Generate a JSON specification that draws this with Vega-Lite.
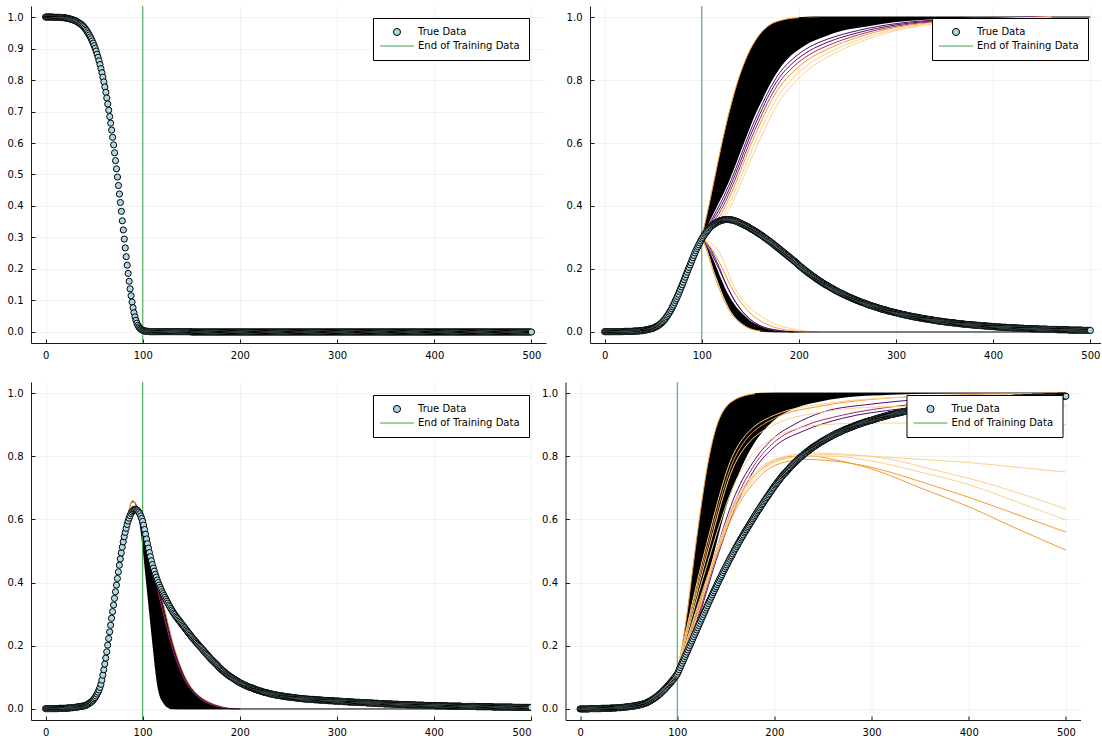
{
"$schema": "https://vega.github.io/schema/vega-lite/v6.json",
"padding": {"left": 7, "top": 5, "right": 0, "bottom": 0},
"background": "white",
"spacing": 21,
"resolve": {"scale": {"shape": "independent", "stroke": "independent"}, "legend": {"shape": "independent", "stroke": "independent"}},
"config": {
  "font": "DejaVu Sans",
  "view": {"stroke": null},
  "axis": {"title": null, "domainColor": "#1a1a1a", "domainWidth": 1, "tickColor": "#1a1a1a", "tickWidth": 1, "tickSize": -4, "labelFont": "DejaVu Sans", "labelFontSize": 10, "labelColor": "#000", "gridColor": "#000", "gridOpacity": 0.1, "gridWidth": 0.5},
  "axisX": {"labelPadding": 11},
  "axisY": {"labelPadding": 12},
  "legend": {"title": null, "strokeColor": "#000", "fillColor": "#fff", "padding": 9, "cornerRadius": 0, "labelFont": "DejaVu Sans", "labelFontSize": 10, "labelColor": "#000", "symbolSize": 50, "symbolStrokeWidth": 1, "rowPadding": 3, "symbolOffset": 10, "labelOffset": 16}
},
"datasets": {
"truth": [
{"x":0,"S":1,"E":0.001,"I":0.001,"R":0},{"x":1,"S":1,"E":0.001,"I":0.001,"R":0},{"x":2,"S":1,"E":0.001,"I":0.001,"R":0},{"x":3,"S":1,"E":0.001,"I":0.001,"R":0},{"x":4,"S":1,"E":0.001,"I":0.001,"R":0},{"x":5,"S":1,"E":0.001,"I":0.001,"R":0},{"x":6,"S":1,"E":0.001,"I":0.001,"R":0},{"x":7,"S":1,"E":0.001,"I":0.001,"R":0},{"x":8,"S":0.999,"E":0.001,"I":0.001,"R":0},{"x":9,"S":0.999,"E":0.001,"I":0.001,"R":0},
{"x":10,"S":0.999,"E":0.001,"I":0.001,"R":0.001},{"x":11,"S":0.999,"E":0.001,"I":0.001,"R":0.001},{"x":12,"S":0.999,"E":0.001,"I":0.001,"R":0.001},{"x":13,"S":0.999,"E":0.001,"I":0.001,"R":0.001},{"x":14,"S":0.999,"E":0.002,"I":0.001,"R":0.001},{"x":15,"S":0.999,"E":0.002,"I":0.001,"R":0.001},{"x":16,"S":0.998,"E":0.002,"I":0.001,"R":0.001},{"x":17,"S":0.998,"E":0.002,"I":0.001,"R":0.001},{"x":18,"S":0.998,"E":0.002,"I":0.001,"R":0.001},{"x":19,"S":0.998,"E":0.002,"I":0.001,"R":0.001},
{"x":20,"S":0.997,"E":0.002,"I":0.002,"R":0.001},{"x":21,"S":0.997,"E":0.002,"I":0.002,"R":0.001},{"x":22,"S":0.996,"E":0.003,"I":0.002,"R":0.002},{"x":23,"S":0.996,"E":0.003,"I":0.002,"R":0.002},{"x":24,"S":0.995,"E":0.003,"I":0.002,"R":0.002},{"x":25,"S":0.994,"E":0.003,"I":0.002,"R":0.002},{"x":26,"S":0.993,"E":0.004,"I":0.002,"R":0.002},{"x":27,"S":0.992,"E":0.004,"I":0.002,"R":0.002},{"x":28,"S":0.991,"E":0.004,"I":0.002,"R":0.002},{"x":29,"S":0.99,"E":0.004,"I":0.002,"R":0.002},
{"x":30,"S":0.989,"E":0.005,"I":0.003,"R":0.002},{"x":31,"S":0.988,"E":0.005,"I":0.003,"R":0.002},{"x":32,"S":0.986,"E":0.006,"I":0.003,"R":0.003},{"x":33,"S":0.984,"E":0.006,"I":0.003,"R":0.003},{"x":34,"S":0.982,"E":0.007,"I":0.003,"R":0.003},{"x":35,"S":0.98,"E":0.007,"I":0.003,"R":0.003},{"x":36,"S":0.978,"E":0.008,"I":0.004,"R":0.003},{"x":37,"S":0.976,"E":0.008,"I":0.004,"R":0.003},{"x":38,"S":0.973,"E":0.009,"I":0.004,"R":0.004},{"x":39,"S":0.97,"E":0.009,"I":0.004,"R":0.004},
{"x":40,"S":0.966,"E":0.010,"I":0.005,"R":0.004},{"x":41,"S":0.962,"E":0.011,"I":0.006,"R":0.004},{"x":42,"S":0.958,"E":0.012,"I":0.006,"R":0.004},{"x":43,"S":0.953,"E":0.014,"I":0.007,"R":0.005},{"x":44,"S":0.948,"E":0.016,"I":0.007,"R":0.005},{"x":45,"S":0.943,"E":0.018,"I":0.008,"R":0.005},{"x":46,"S":0.937,"E":0.020,"I":0.009,"R":0.006},{"x":47,"S":0.931,"E":0.022,"I":0.010,"R":0.006},{"x":48,"S":0.924,"E":0.025,"I":0.010,"R":0.006},{"x":49,"S":0.917,"E":0.028,"I":0.011,"R":0.007},
{"x":50,"S":0.909,"E":0.032,"I":0.012,"R":0.007},{"x":51,"S":0.901,"E":0.036,"I":0.014,"R":0.007},{"x":52,"S":0.892,"E":0.041,"I":0.015,"R":0.008},{"x":53,"S":0.882,"E":0.047,"I":0.017,"R":0.008},{"x":54,"S":0.872,"E":0.053,"I":0.018,"R":0.009},{"x":55,"S":0.861,"E":0.060,"I":0.020,"R":0.009},{"x":56,"S":0.849,"E":0.068,"I":0.022,"R":0.010},{"x":57,"S":0.836,"E":0.078,"I":0.025,"R":0.010},{"x":58,"S":0.823,"E":0.091,"I":0.027,"R":0.011},{"x":59,"S":0.809,"E":0.107,"I":0.030,"R":0.011},
{"x":60,"S":0.794,"E":0.124,"I":0.033,"R":0.012},{"x":61,"S":0.778,"E":0.142,"I":0.037,"R":0.013},{"x":62,"S":0.761,"E":0.161,"I":0.040,"R":0.013},{"x":63,"S":0.743,"E":0.181,"I":0.044,"R":0.014},{"x":64,"S":0.724,"E":0.202,"I":0.049,"R":0.015},{"x":65,"S":0.704,"E":0.223,"I":0.053,"R":0.016},{"x":66,"S":0.684,"E":0.244,"I":0.058,"R":0.017},{"x":67,"S":0.663,"E":0.265,"I":0.063,"R":0.018},{"x":68,"S":0.641,"E":0.287,"I":0.068,"R":0.019},{"x":69,"S":0.618,"E":0.308,"I":0.074,"R":0.020},
{"x":70,"S":0.594,"E":0.329,"I":0.080,"R":0.022},{"x":71,"S":0.569,"E":0.350,"I":0.086,"R":0.024},{"x":72,"S":0.544,"E":0.371,"I":0.093,"R":0.025},{"x":73,"S":0.518,"E":0.392,"I":0.100,"R":0.027},{"x":74,"S":0.492,"E":0.413,"I":0.106,"R":0.029},{"x":75,"S":0.465,"E":0.434,"I":0.113,"R":0.031},{"x":76,"S":0.438,"E":0.455,"I":0.120,"R":0.033},{"x":77,"S":0.411,"E":0.475,"I":0.128,"R":0.035},{"x":78,"S":0.383,"E":0.494,"I":0.135,"R":0.037},{"x":79,"S":0.353,"E":0.512,"I":0.143,"R":0.040},
{"x":80,"S":0.324,"E":0.529,"I":0.150,"R":0.042},{"x":81,"S":0.295,"E":0.545,"I":0.158,"R":0.045},{"x":82,"S":0.267,"E":0.559,"I":0.166,"R":0.047},{"x":83,"S":0.239,"E":0.572,"I":0.174,"R":0.050},{"x":84,"S":0.212,"E":0.584,"I":0.182,"R":0.053},{"x":85,"S":0.186,"E":0.595,"I":0.190,"R":0.056},{"x":86,"S":0.161,"E":0.604,"I":0.198,"R":0.059},{"x":87,"S":0.137,"E":0.612,"I":0.205,"R":0.062},{"x":88,"S":0.115,"E":0.619,"I":0.213,"R":0.065},{"x":89,"S":0.095,"E":0.624,"I":0.220,"R":0.069},
{"x":90,"S":0.077,"E":0.628,"I":0.228,"R":0.072},{"x":91,"S":0.061,"E":0.631,"I":0.236,"R":0.076},{"x":92,"S":0.048,"E":0.632,"I":0.243,"R":0.079},{"x":93,"S":0.037,"E":0.632,"I":0.251,"R":0.083},{"x":94,"S":0.028,"E":0.630,"I":0.258,"R":0.086},{"x":95,"S":0.021,"E":0.627,"I":0.265,"R":0.090},{"x":96,"S":0.016,"E":0.623,"I":0.271,"R":0.094},{"x":97,"S":0.012,"E":0.618,"I":0.277,"R":0.098},{"x":98,"S":0.009,"E":0.611,"I":0.283,"R":0.102},{"x":99,"S":0.007,"E":0.603,"I":0.289,"R":0.106},
{"x":100,"S":0.005,"E":0.594,"I":0.295,"R":0.110},{"x":101,"S":0.004,"E":0.582,"I":0.300,"R":0.117},{"x":102,"S":0.003,"E":0.568,"I":0.305,"R":0.124},{"x":103,"S":0.003,"E":0.553,"I":0.310,"R":0.131},{"x":104,"S":0.002,"E":0.538,"I":0.314,"R":0.138},{"x":105,"S":0.002,"E":0.523,"I":0.318,"R":0.145},{"x":106,"S":0.002,"E":0.509,"I":0.322,"R":0.152},{"x":107,"S":0.001,"E":0.495,"I":0.326,"R":0.159},{"x":108,"S":0.001,"E":0.482,"I":0.330,"R":0.166},{"x":109,"S":0.001,"E":0.469,"I":0.333,"R":0.173},
{"x":110,"S":0.001,"E":0.457,"I":0.336,"R":0.180},{"x":111,"S":0.001,"E":0.446,"I":0.339,"R":0.187},{"x":112,"S":0.001,"E":0.436,"I":0.341,"R":0.194},{"x":113,"S":0.001,"E":0.426,"I":0.343,"R":0.201},{"x":114,"S":0.001,"E":0.417,"I":0.345,"R":0.208},{"x":115,"S":0.001,"E":0.408,"I":0.347,"R":0.215},{"x":116,"S":0.001,"E":0.400,"I":0.349,"R":0.222},{"x":117,"S":0.001,"E":0.392,"I":0.350,"R":0.229},{"x":118,"S":0.001,"E":0.385,"I":0.352,"R":0.236},{"x":119,"S":0.001,"E":0.378,"I":0.353,"R":0.243},
{"x":120,"S":0.001,"E":0.371,"I":0.354,"R":0.250},{"x":121,"S":0.001,"E":0.365,"I":0.355,"R":0.257},{"x":122,"S":0.001,"E":0.359,"I":0.356,"R":0.264},{"x":123,"S":0.001,"E":0.353,"I":0.356,"R":0.271},{"x":124,"S":0.001,"E":0.347,"I":0.357,"R":0.278},{"x":125,"S":0.001,"E":0.341,"I":0.357,"R":0.285},{"x":126,"S":0.001,"E":0.335,"I":0.357,"R":0.292},{"x":127,"S":0.001,"E":0.329,"I":0.357,"R":0.299},{"x":128,"S":0.001,"E":0.324,"I":0.357,"R":0.306},{"x":129,"S":0.001,"E":0.318,"I":0.356,"R":0.313},
{"x":130,"S":0.001,"E":0.313,"I":0.356,"R":0.320},{"x":131,"S":0.001,"E":0.308,"I":0.356,"R":0.327},{"x":132,"S":0.001,"E":0.303,"I":0.355,"R":0.334},{"x":133,"S":0.001,"E":0.299,"I":0.354,"R":0.341},{"x":134,"S":0.001,"E":0.294,"I":0.353,"R":0.347},{"x":135,"S":0.001,"E":0.290,"I":0.352,"R":0.354},{"x":136,"S":0.001,"E":0.286,"I":0.351,"R":0.361},{"x":137,"S":0.001,"E":0.282,"I":0.350,"R":0.368},{"x":138,"S":0.001,"E":0.278,"I":0.348,"R":0.374},{"x":139,"S":0.001,"E":0.274,"I":0.347,"R":0.381},
{"x":140,"S":0.001,"E":0.270,"I":0.345,"R":0.387},{"x":141,"S":0.001,"E":0.266,"I":0.344,"R":0.394},{"x":142,"S":0.001,"E":0.262,"I":0.342,"R":0.400},{"x":143,"S":0.001,"E":0.258,"I":0.341,"R":0.407},{"x":144,"S":0.001,"E":0.254,"I":0.339,"R":0.413},{"x":145,"S":0.001,"E":0.250,"I":0.338,"R":0.419},{"x":146,"S":0.001,"E":0.246,"I":0.336,"R":0.425},{"x":147,"S":0.001,"E":0.242,"I":0.335,"R":0.432},{"x":148,"S":0.001,"E":0.238,"I":0.333,"R":0.438},{"x":149,"S":0.001,"E":0.234,"I":0.331,"R":0.444},
{"x":150,"S":0,"E":0.230,"I":0.329,"R":0.450},{"x":151,"S":0,"E":0.226,"I":0.327,"R":0.456},{"x":152,"S":0,"E":0.222,"I":0.325,"R":0.462},{"x":153,"S":0,"E":0.219,"I":0.324,"R":0.468},{"x":154,"S":0,"E":0.215,"I":0.322,"R":0.474},{"x":155,"S":0,"E":0.212,"I":0.320,"R":0.480},{"x":156,"S":0,"E":0.208,"I":0.318,"R":0.485},{"x":157,"S":0,"E":0.205,"I":0.316,"R":0.491},{"x":158,"S":0,"E":0.201,"I":0.314,"R":0.497},{"x":159,"S":0,"E":0.198,"I":0.312,"R":0.503},
{"x":160,"S":0,"E":0.194,"I":0.310,"R":0.508},{"x":161,"S":0,"E":0.191,"I":0.308,"R":0.514},{"x":162,"S":0,"E":0.187,"I":0.306,"R":0.519},{"x":163,"S":0,"E":0.184,"I":0.304,"R":0.525},{"x":164,"S":0,"E":0.180,"I":0.301,"R":0.530},{"x":165,"S":0,"E":0.177,"I":0.299,"R":0.536},{"x":166,"S":0,"E":0.173,"I":0.297,"R":0.541},{"x":167,"S":0,"E":0.170,"I":0.295,"R":0.546},{"x":168,"S":0,"E":0.166,"I":0.292,"R":0.551},{"x":169,"S":0,"E":0.163,"I":0.290,"R":0.557},
{"x":170,"S":0,"E":0.159,"I":0.288,"R":0.562},{"x":171,"S":0,"E":0.156,"I":0.286,"R":0.567},{"x":172,"S":0,"E":0.153,"I":0.283,"R":0.572},{"x":173,"S":0,"E":0.150,"I":0.281,"R":0.577},{"x":174,"S":0,"E":0.147,"I":0.278,"R":0.582},{"x":175,"S":0,"E":0.144,"I":0.276,"R":0.587},{"x":176,"S":0,"E":0.141,"I":0.273,"R":0.592},{"x":177,"S":0,"E":0.138,"I":0.271,"R":0.597},{"x":178,"S":0,"E":0.134,"I":0.268,"R":0.602},{"x":179,"S":0,"E":0.131,"I":0.266,"R":0.607},
{"x":180,"S":0,"E":0.128,"I":0.263,"R":0.612},{"x":181,"S":0,"E":0.125,"I":0.261,"R":0.617},{"x":182,"S":0,"E":0.122,"I":0.258,"R":0.622},{"x":183,"S":0,"E":0.120,"I":0.256,"R":0.627},{"x":184,"S":0,"E":0.117,"I":0.253,"R":0.631},{"x":185,"S":0,"E":0.115,"I":0.251,"R":0.636},{"x":186,"S":0,"E":0.112,"I":0.248,"R":0.641},{"x":187,"S":0,"E":0.110,"I":0.246,"R":0.646},{"x":188,"S":0,"E":0.107,"I":0.243,"R":0.650},{"x":189,"S":0,"E":0.105,"I":0.241,"R":0.655},
{"x":190,"S":0,"E":0.103,"I":0.238,"R":0.660},{"x":191,"S":0,"E":0.101,"I":0.236,"R":0.664},{"x":192,"S":0,"E":0.099,"I":0.233,"R":0.669},{"x":193,"S":0,"E":0.097,"I":0.231,"R":0.673},{"x":194,"S":0,"E":0.095,"I":0.228,"R":0.678},{"x":195,"S":0,"E":0.093,"I":0.226,"R":0.682},{"x":196,"S":0,"E":0.091,"I":0.223,"R":0.687},{"x":197,"S":0,"E":0.089,"I":0.221,"R":0.691},{"x":198,"S":0,"E":0.087,"I":0.218,"R":0.696},{"x":199,"S":0,"E":0.085,"I":0.215,"R":0.700},
{"x":200,"S":0,"E":0.083,"I":0.212,"R":0.705},{"x":201,"S":0,"E":0.082,"I":0.209,"R":0.709},{"x":202,"S":0,"E":0.080,"I":0.207,"R":0.713},{"x":203,"S":0,"E":0.079,"I":0.204,"R":0.717},{"x":204,"S":0,"E":0.077,"I":0.202,"R":0.721},{"x":205,"S":0,"E":0.076,"I":0.199,"R":0.725},{"x":206,"S":0,"E":0.074,"I":0.197,"R":0.729},{"x":207,"S":0,"E":0.073,"I":0.194,"R":0.733},{"x":208,"S":0,"E":0.071,"I":0.192,"R":0.737},{"x":209,"S":0,"E":0.070,"I":0.189,"R":0.741},
{"x":210,"S":0,"E":0.069,"I":0.187,"R":0.744},{"x":211,"S":0,"E":0.068,"I":0.185,"R":0.747},{"x":212,"S":0,"E":0.067,"I":0.183,"R":0.750},{"x":213,"S":0,"E":0.066,"I":0.180,"R":0.754},{"x":214,"S":0,"E":0.065,"I":0.178,"R":0.757},{"x":215,"S":0,"E":0.063,"I":0.176,"R":0.761},{"x":216,"S":0,"E":0.062,"I":0.174,"R":0.764},{"x":217,"S":0,"E":0.061,"I":0.171,"R":0.768},{"x":218,"S":0,"E":0.060,"I":0.169,"R":0.771},{"x":219,"S":0,"E":0.059,"I":0.167,"R":0.774},
{"x":220,"S":0,"E":0.058,"I":0.165,"R":0.777},{"x":221,"S":0,"E":0.057,"I":0.163,"R":0.780},{"x":222,"S":0,"E":0.056,"I":0.161,"R":0.783},{"x":223,"S":0,"E":0.055,"I":0.159,"R":0.786},{"x":224,"S":0,"E":0.054,"I":0.157,"R":0.789},{"x":225,"S":0,"E":0.053,"I":0.155,"R":0.792},{"x":226,"S":0,"E":0.052,"I":0.153,"R":0.795},{"x":227,"S":0,"E":0.052,"I":0.151,"R":0.797},{"x":228,"S":0,"E":0.051,"I":0.149,"R":0.800},{"x":229,"S":0,"E":0.050,"I":0.148,"R":0.802},
{"x":230,"S":0,"E":0.049,"I":0.146,"R":0.805},{"x":231,"S":0,"E":0.048,"I":0.144,"R":0.808},{"x":232,"S":0,"E":0.048,"I":0.142,"R":0.810},{"x":233,"S":0,"E":0.047,"I":0.140,"R":0.813},{"x":234,"S":0,"E":0.046,"I":0.139,"R":0.815},{"x":235,"S":0,"E":0.046,"I":0.137,"R":0.817},{"x":236,"S":0,"E":0.045,"I":0.135,"R":0.820},{"x":237,"S":0,"E":0.044,"I":0.133,"R":0.823},{"x":238,"S":0,"E":0.044,"I":0.132,"R":0.824},{"x":239,"S":0,"E":0.043,"I":0.130,"R":0.827},
{"x":240,"S":0,"E":0.043,"I":0.128,"R":0.829},{"x":241,"S":0,"E":0.042,"I":0.127,"R":0.831},{"x":242,"S":0,"E":0.042,"I":0.125,"R":0.833},{"x":243,"S":0,"E":0.041,"I":0.124,"R":0.835},{"x":244,"S":0,"E":0.041,"I":0.122,"R":0.837},{"x":245,"S":0,"E":0.040,"I":0.121,"R":0.839},{"x":246,"S":0,"E":0.040,"I":0.119,"R":0.841},{"x":247,"S":0,"E":0.039,"I":0.118,"R":0.843},{"x":248,"S":0,"E":0.039,"I":0.116,"R":0.845},{"x":249,"S":0,"E":0.038,"I":0.115,"R":0.847},
{"x":250,"S":0,"E":0.038,"I":0.113,"R":0.849},{"x":251,"S":0,"E":0.038,"I":0.112,"R":0.850},{"x":252,"S":0,"E":0.037,"I":0.111,"R":0.852},{"x":253,"S":0,"E":0.037,"I":0.109,"R":0.854},{"x":254,"S":0,"E":0.036,"I":0.108,"R":0.856},{"x":255,"S":0,"E":0.036,"I":0.107,"R":0.857},{"x":256,"S":0,"E":0.036,"I":0.105,"R":0.859},{"x":257,"S":0,"E":0.035,"I":0.104,"R":0.861},{"x":258,"S":0,"E":0.035,"I":0.103,"R":0.862},{"x":259,"S":0,"E":0.034,"I":0.101,"R":0.865},
{"x":260,"S":0,"E":0.034,"I":0.100,"R":0.866},{"x":261,"S":0,"E":0.034,"I":0.099,"R":0.867},{"x":262,"S":0,"E":0.033,"I":0.098,"R":0.869},{"x":263,"S":0,"E":0.033,"I":0.096,"R":0.871},{"x":264,"S":0,"E":0.033,"I":0.095,"R":0.872},{"x":265,"S":0,"E":0.032,"I":0.094,"R":0.874},{"x":266,"S":0,"E":0.032,"I":0.093,"R":0.875},{"x":267,"S":0,"E":0.032,"I":0.092,"R":0.876},{"x":268,"S":0,"E":0.031,"I":0.091,"R":0.878},{"x":269,"S":0,"E":0.031,"I":0.090,"R":0.879},
{"x":270,"S":0,"E":0.031,"I":0.088,"R":0.881},{"x":271,"S":0,"E":0.031,"I":0.087,"R":0.882},{"x":272,"S":0,"E":0.030,"I":0.086,"R":0.884},{"x":273,"S":0,"E":0.030,"I":0.085,"R":0.885},{"x":274,"S":0,"E":0.030,"I":0.084,"R":0.886},{"x":275,"S":0,"E":0.030,"I":0.083,"R":0.887},{"x":276,"S":0,"E":0.030,"I":0.082,"R":0.888},{"x":277,"S":0,"E":0.029,"I":0.081,"R":0.890},{"x":278,"S":0,"E":0.029,"I":0.080,"R":0.891},{"x":279,"S":0,"E":0.029,"I":0.079,"R":0.892},
{"x":280,"S":0,"E":0.029,"I":0.078,"R":0.893},{"x":281,"S":0,"E":0.029,"I":0.077,"R":0.894},{"x":282,"S":0,"E":0.028,"I":0.076,"R":0.896},{"x":283,"S":0,"E":0.028,"I":0.075,"R":0.897},{"x":284,"S":0,"E":0.028,"I":0.074,"R":0.898},{"x":285,"S":0,"E":0.028,"I":0.073,"R":0.899},{"x":286,"S":0,"E":0.027,"I":0.072,"R":0.901},{"x":287,"S":0,"E":0.027,"I":0.071,"R":0.902},{"x":288,"S":0,"E":0.027,"I":0.071,"R":0.902},{"x":289,"S":0,"E":0.027,"I":0.070,"R":0.903},
{"x":290,"S":0,"E":0.027,"I":0.069,"R":0.904},{"x":291,"S":0,"E":0.026,"I":0.068,"R":0.906},{"x":292,"S":0,"E":0.026,"I":0.067,"R":0.907},{"x":293,"S":0,"E":0.026,"I":0.066,"R":0.908},{"x":294,"S":0,"E":0.026,"I":0.065,"R":0.909},{"x":295,"S":0,"E":0.026,"I":0.065,"R":0.909},{"x":296,"S":0,"E":0.026,"I":0.064,"R":0.910},{"x":297,"S":0,"E":0.025,"I":0.063,"R":0.912},{"x":298,"S":0,"E":0.025,"I":0.062,"R":0.913},{"x":299,"S":0,"E":0.025,"I":0.062,"R":0.913},
{"x":300,"S":0,"E":0.025,"I":0.061,"R":0.914},{"x":301,"S":0,"E":0.025,"I":0.060,"R":0.915},{"x":302,"S":0,"E":0.025,"I":0.059,"R":0.916},{"x":303,"S":0,"E":0.024,"I":0.059,"R":0.917},{"x":304,"S":0,"E":0.024,"I":0.058,"R":0.918},{"x":305,"S":0,"E":0.024,"I":0.057,"R":0.919},{"x":306,"S":0,"E":0.024,"I":0.056,"R":0.920},{"x":307,"S":0,"E":0.023,"I":0.056,"R":0.921},{"x":308,"S":0,"E":0.023,"I":0.055,"R":0.922},{"x":309,"S":0,"E":0.023,"I":0.054,"R":0.923},
{"x":310,"S":0,"E":0.023,"I":0.054,"R":0.923},{"x":311,"S":0,"E":0.023,"I":0.053,"R":0.924},{"x":312,"S":0,"E":0.022,"I":0.052,"R":0.926},{"x":313,"S":0,"E":0.022,"I":0.052,"R":0.926},{"x":314,"S":0,"E":0.022,"I":0.051,"R":0.927},{"x":315,"S":0,"E":0.022,"I":0.050,"R":0.928},{"x":316,"S":0,"E":0.022,"I":0.050,"R":0.928},{"x":317,"S":0,"E":0.022,"I":0.049,"R":0.929},{"x":318,"S":0,"E":0.021,"I":0.048,"R":0.931},{"x":319,"S":0,"E":0.021,"I":0.048,"R":0.931},
{"x":320,"S":0,"E":0.021,"I":0.047,"R":0.932},{"x":321,"S":0,"E":0.021,"I":0.047,"R":0.932},{"x":322,"S":0,"E":0.021,"I":0.046,"R":0.933},{"x":323,"S":0,"E":0.021,"I":0.046,"R":0.933},{"x":324,"S":0,"E":0.020,"I":0.045,"R":0.935},{"x":325,"S":0,"E":0.020,"I":0.044,"R":0.936},{"x":326,"S":0,"E":0.020,"I":0.044,"R":0.936},{"x":327,"S":0,"E":0.020,"I":0.043,"R":0.937},{"x":328,"S":0,"E":0.020,"I":0.043,"R":0.937},{"x":329,"S":0,"E":0.020,"I":0.042,"R":0.938},
{"x":330,"S":0,"E":0.020,"I":0.042,"R":0.938},{"x":331,"S":0,"E":0.019,"I":0.041,"R":0.940},{"x":332,"S":0,"E":0.019,"I":0.041,"R":0.940},{"x":333,"S":0,"E":0.019,"I":0.040,"R":0.941},{"x":334,"S":0,"E":0.019,"I":0.040,"R":0.941},{"x":335,"S":0,"E":0.019,"I":0.039,"R":0.942},{"x":336,"S":0,"E":0.019,"I":0.039,"R":0.942},{"x":337,"S":0,"E":0.018,"I":0.038,"R":0.944},{"x":338,"S":0,"E":0.018,"I":0.038,"R":0.944},{"x":339,"S":0,"E":0.018,"I":0.037,"R":0.945},
{"x":340,"S":0,"E":0.018,"I":0.037,"R":0.945},{"x":341,"S":0,"E":0.018,"I":0.036,"R":0.946},{"x":342,"S":0,"E":0.018,"I":0.036,"R":0.946},{"x":343,"S":0,"E":0.017,"I":0.035,"R":0.948},{"x":344,"S":0,"E":0.017,"I":0.035,"R":0.948},{"x":345,"S":0,"E":0.017,"I":0.034,"R":0.949},{"x":346,"S":0,"E":0.017,"I":0.034,"R":0.949},{"x":347,"S":0,"E":0.017,"I":0.034,"R":0.949},{"x":348,"S":0,"E":0.017,"I":0.033,"R":0.950},{"x":349,"S":0,"E":0.016,"I":0.033,"R":0.951},
{"x":350,"S":0,"E":0.016,"I":0.032,"R":0.952},{"x":351,"S":0,"E":0.016,"I":0.032,"R":0.952},{"x":352,"S":0,"E":0.016,"I":0.031,"R":0.953},{"x":353,"S":0,"E":0.016,"I":0.031,"R":0.953},{"x":354,"S":0,"E":0.016,"I":0.031,"R":0.953},{"x":355,"S":0,"E":0.016,"I":0.030,"R":0.954},{"x":356,"S":0,"E":0.016,"I":0.030,"R":0.954},{"x":357,"S":0,"E":0.015,"I":0.030,"R":0.955},{"x":358,"S":0,"E":0.015,"I":0.029,"R":0.956},{"x":359,"S":0,"E":0.015,"I":0.029,"R":0.956},
{"x":360,"S":0,"E":0.015,"I":0.029,"R":0.956},{"x":361,"S":0,"E":0.015,"I":0.028,"R":0.957},{"x":362,"S":0,"E":0.015,"I":0.028,"R":0.957},{"x":363,"S":0,"E":0.015,"I":0.027,"R":0.958},{"x":364,"S":0,"E":0.014,"I":0.027,"R":0.959},{"x":365,"S":0,"E":0.014,"I":0.027,"R":0.959},{"x":366,"S":0,"E":0.014,"I":0.026,"R":0.960},{"x":367,"S":0,"E":0.014,"I":0.026,"R":0.960},{"x":368,"S":0,"E":0.014,"I":0.026,"R":0.960},{"x":369,"S":0,"E":0.014,"I":0.025,"R":0.961},
{"x":370,"S":0,"E":0.014,"I":0.025,"R":0.961},{"x":371,"S":0,"E":0.014,"I":0.025,"R":0.961},{"x":372,"S":0,"E":0.013,"I":0.024,"R":0.963},{"x":373,"S":0,"E":0.013,"I":0.024,"R":0.963},{"x":374,"S":0,"E":0.013,"I":0.024,"R":0.963},{"x":375,"S":0,"E":0.013,"I":0.024,"R":0.963},{"x":376,"S":0,"E":0.013,"I":0.023,"R":0.964},{"x":377,"S":0,"E":0.013,"I":0.023,"R":0.964},{"x":378,"S":0,"E":0.013,"I":0.023,"R":0.964},{"x":379,"S":0,"E":0.013,"I":0.022,"R":0.965},
{"x":380,"S":0,"E":0.013,"I":0.022,"R":0.965},{"x":381,"S":0,"E":0.012,"I":0.022,"R":0.966},{"x":382,"S":0,"E":0.012,"I":0.022,"R":0.966},{"x":383,"S":0,"E":0.012,"I":0.021,"R":0.967},{"x":384,"S":0,"E":0.012,"I":0.021,"R":0.967},{"x":385,"S":0,"E":0.012,"I":0.021,"R":0.967},{"x":386,"S":0,"E":0.012,"I":0.021,"R":0.967},{"x":387,"S":0,"E":0.012,"I":0.020,"R":0.968},{"x":388,"S":0,"E":0.012,"I":0.020,"R":0.968},{"x":389,"S":0,"E":0.012,"I":0.020,"R":0.968},
{"x":390,"S":0,"E":0.011,"I":0.020,"R":0.969},{"x":391,"S":0,"E":0.011,"I":0.019,"R":0.970},{"x":392,"S":0,"E":0.011,"I":0.019,"R":0.970},{"x":393,"S":0,"E":0.011,"I":0.019,"R":0.970},{"x":394,"S":0,"E":0.011,"I":0.019,"R":0.970},{"x":395,"S":0,"E":0.011,"I":0.018,"R":0.971},{"x":396,"S":0,"E":0.011,"I":0.018,"R":0.971},{"x":397,"S":0,"E":0.011,"I":0.018,"R":0.971},{"x":398,"S":0,"E":0.011,"I":0.018,"R":0.971},{"x":399,"S":0,"E":0.011,"I":0.017,"R":0.972},
{"x":400,"S":0,"E":0.011,"I":0.017,"R":0.972},{"x":401,"S":0,"E":0.011,"I":0.017,"R":0.972},{"x":402,"S":0,"E":0.010,"I":0.017,"R":0.973},{"x":403,"S":0,"E":0.010,"I":0.016,"R":0.974},{"x":404,"S":0,"E":0.010,"I":0.016,"R":0.974},{"x":405,"S":0,"E":0.010,"I":0.016,"R":0.974},{"x":406,"S":0,"E":0.010,"I":0.016,"R":0.974},{"x":407,"S":0,"E":0.010,"I":0.016,"R":0.974},{"x":408,"S":0,"E":0.010,"I":0.015,"R":0.975},{"x":409,"S":0,"E":0.010,"I":0.015,"R":0.975},
{"x":410,"S":0,"E":0.010,"I":0.015,"R":0.975},{"x":411,"S":0,"E":0.010,"I":0.015,"R":0.975},{"x":412,"S":0,"E":0.010,"I":0.015,"R":0.975},{"x":413,"S":0,"E":0.010,"I":0.015,"R":0.975},{"x":414,"S":0,"E":0.009,"I":0.014,"R":0.977},{"x":415,"S":0,"E":0.009,"I":0.014,"R":0.977},{"x":416,"S":0,"E":0.009,"I":0.014,"R":0.977},{"x":417,"S":0,"E":0.009,"I":0.014,"R":0.977},{"x":418,"S":0,"E":0.009,"I":0.014,"R":0.977},{"x":419,"S":0,"E":0.009,"I":0.014,"R":0.977},
{"x":420,"S":0,"E":0.009,"I":0.013,"R":0.978},{"x":421,"S":0,"E":0.009,"I":0.013,"R":0.978},{"x":422,"S":0,"E":0.009,"I":0.013,"R":0.978},{"x":423,"S":0,"E":0.009,"I":0.013,"R":0.978},{"x":424,"S":0,"E":0.009,"I":0.013,"R":0.978},{"x":425,"S":0,"E":0.009,"I":0.013,"R":0.978},{"x":426,"S":0,"E":0.009,"I":0.012,"R":0.979},{"x":427,"S":0,"E":0.009,"I":0.012,"R":0.979},{"x":428,"S":0,"E":0.009,"I":0.012,"R":0.979},{"x":429,"S":0,"E":0.008,"I":0.012,"R":0.980},
{"x":430,"S":0,"E":0.008,"I":0.012,"R":0.980},{"x":431,"S":0,"E":0.008,"I":0.012,"R":0.980},{"x":432,"S":0,"E":0.008,"I":0.011,"R":0.981},{"x":433,"S":0,"E":0.008,"I":0.011,"R":0.981},{"x":434,"S":0,"E":0.008,"I":0.011,"R":0.981},{"x":435,"S":0,"E":0.008,"I":0.011,"R":0.981},{"x":436,"S":0,"E":0.008,"I":0.011,"R":0.981},{"x":437,"S":0,"E":0.008,"I":0.011,"R":0.981},{"x":438,"S":0,"E":0.008,"I":0.011,"R":0.981},{"x":439,"S":0,"E":0.008,"I":0.010,"R":0.982},
{"x":440,"S":0,"E":0.008,"I":0.010,"R":0.982},{"x":441,"S":0,"E":0.008,"I":0.010,"R":0.982},{"x":442,"S":0,"E":0.008,"I":0.010,"R":0.982},{"x":443,"S":0,"E":0.008,"I":0.010,"R":0.982},{"x":444,"S":0,"E":0.007,"I":0.010,"R":0.983},{"x":445,"S":0,"E":0.007,"I":0.010,"R":0.983},{"x":446,"S":0,"E":0.007,"I":0.010,"R":0.983},{"x":447,"S":0,"E":0.007,"I":0.009,"R":0.984},{"x":448,"S":0,"E":0.007,"I":0.009,"R":0.984},{"x":449,"S":0,"E":0.007,"I":0.009,"R":0.984},
{"x":450,"S":0,"E":0.007,"I":0.009,"R":0.984},{"x":451,"S":0,"E":0.007,"I":0.009,"R":0.984},{"x":452,"S":0,"E":0.007,"I":0.009,"R":0.984},{"x":453,"S":0,"E":0.007,"I":0.009,"R":0.984},{"x":454,"S":0,"E":0.007,"I":0.009,"R":0.984},{"x":455,"S":0,"E":0.007,"I":0.009,"R":0.984},{"x":456,"S":0,"E":0.007,"I":0.008,"R":0.985},{"x":457,"S":0,"E":0.007,"I":0.008,"R":0.985},{"x":458,"S":0,"E":0.007,"I":0.008,"R":0.985},{"x":459,"S":0,"E":0.007,"I":0.008,"R":0.985},
{"x":460,"S":0,"E":0.007,"I":0.008,"R":0.985},{"x":461,"S":0,"E":0.006,"I":0.008,"R":0.986},{"x":462,"S":0,"E":0.006,"I":0.008,"R":0.986},{"x":463,"S":0,"E":0.006,"I":0.008,"R":0.986},{"x":464,"S":0,"E":0.006,"I":0.008,"R":0.986},{"x":465,"S":0,"E":0.006,"I":0.008,"R":0.986},{"x":466,"S":0,"E":0.006,"I":0.007,"R":0.987},{"x":467,"S":0,"E":0.006,"I":0.007,"R":0.987},{"x":468,"S":0,"E":0.006,"I":0.007,"R":0.987},{"x":469,"S":0,"E":0.006,"I":0.007,"R":0.987},
{"x":470,"S":0,"E":0.006,"I":0.007,"R":0.987},{"x":471,"S":0,"E":0.006,"I":0.007,"R":0.987},{"x":472,"S":0,"E":0.006,"I":0.007,"R":0.987},{"x":473,"S":0,"E":0.006,"I":0.007,"R":0.987},{"x":474,"S":0,"E":0.006,"I":0.007,"R":0.987},{"x":475,"S":0,"E":0.006,"I":0.007,"R":0.987},{"x":476,"S":0,"E":0.006,"I":0.007,"R":0.987},{"x":477,"S":0,"E":0.006,"I":0.007,"R":0.987},{"x":478,"S":0,"E":0.006,"I":0.006,"R":0.988},{"x":479,"S":0,"E":0.006,"I":0.006,"R":0.988},
{"x":480,"S":0,"E":0.006,"I":0.006,"R":0.988},{"x":481,"S":0,"E":0.005,"I":0.006,"R":0.989},{"x":482,"S":0,"E":0.005,"I":0.006,"R":0.989},{"x":483,"S":0,"E":0.005,"I":0.006,"R":0.989},{"x":484,"S":0,"E":0.005,"I":0.006,"R":0.989},{"x":485,"S":0,"E":0.005,"I":0.006,"R":0.989},{"x":486,"S":0,"E":0.005,"I":0.006,"R":0.989},{"x":487,"S":0,"E":0.005,"I":0.006,"R":0.989},{"x":488,"S":0,"E":0.005,"I":0.006,"R":0.989},{"x":489,"S":0,"E":0.005,"I":0.006,"R":0.989},
{"x":490,"S":0,"E":0.005,"I":0.006,"R":0.989},{"x":491,"S":0,"E":0.005,"I":0.006,"R":0.989},{"x":492,"S":0,"E":0.005,"I":0.005,"R":0.990},{"x":493,"S":0,"E":0.005,"I":0.005,"R":0.990},{"x":494,"S":0,"E":0.005,"I":0.005,"R":0.990},{"x":495,"S":0,"E":0.005,"I":0.005,"R":0.990},{"x":496,"S":0,"E":0.005,"I":0.005,"R":0.990},{"x":497,"S":0,"E":0.005,"I":0.005,"R":0.990},{"x":498,"S":0,"E":0.005,"I":0.005,"R":0.990},{"x":499,"S":0,"E":0.005,"I":0.005,"R":0.990},
{"x":500,"S":0,"E":0.005,"I":0.005,"R":0.990}
],
"a2": [
{"g":"up","x":100,"lo":0.30,"hi":0.30},{"g":"up","x":104,"lo":0.325,"hi":0.354},{"g":"up","x":108,"lo":0.35,"hi":0.41},{"g":"up","x":112,"lo":0.375,"hi":0.469},{"g":"up","x":116,"lo":0.40,"hi":0.529},{"g":"up","x":120,"lo":0.425,"hi":0.588},{"g":"up","x":124,"lo":0.45,"hi":0.643},{"g":"up","x":128,"lo":0.478,"hi":0.695},{"g":"up","x":132,"lo":0.508,"hi":0.742},{"g":"up","x":136,"lo":0.54,"hi":0.785},{"g":"up","x":140,"lo":0.572,"hi":0.823},{"g":"up","x":145,"lo":0.612,"hi":0.863},{"g":"up","x":150,"lo":0.652,"hi":0.897},{"g":"up","x":155,"lo":0.69,"hi":0.924},{"g":"up","x":160,"lo":0.722,"hi":0.946},{"g":"up","x":170,"lo":0.785,"hi":0.975},{"g":"up","x":180,"lo":0.835,"hi":0.988},{"g":"up","x":190,"lo":0.872,"hi":0.995},{"g":"up","x":200,"lo":0.897,"hi":0.998},{"g":"up","x":210,"lo":0.917,"hi":0.999},{"g":"up","x":220,"lo":0.930,"hi":1},{"g":"up","x":235,"lo":0.948,"hi":1},{"g":"up","x":250,"lo":0.960,"hi":1},{"g":"up","x":270,"lo":0.970,"hi":1},{"g":"up","x":300,"lo":0.984,"hi":1},{"g":"up","x":330,"lo":0.991,"hi":1},{"g":"up","x":360,"lo":0.996,"hi":1},{"g":"up","x":400,"lo":0.999,"hi":1},{"g":"up","x":450,"lo":1,"hi":1},
{"g":"low","x":100,"lo":0.30,"hi":0.30},{"g":"low","x":104,"lo":0.275,"hi":0.28},{"g":"low","x":108,"lo":0.24,"hi":0.257},{"g":"low","x":112,"lo":0.20,"hi":0.229},{"g":"low","x":116,"lo":0.165,"hi":0.199},{"g":"low","x":120,"lo":0.132,"hi":0.168},{"g":"low","x":124,"lo":0.102,"hi":0.14},{"g":"low","x":128,"lo":0.076,"hi":0.116},{"g":"low","x":132,"lo":0.056,"hi":0.095},{"g":"low","x":136,"lo":0.041,"hi":0.078},{"g":"low","x":140,"lo":0.03,"hi":0.064},{"g":"low","x":145,"lo":0.019,"hi":0.049},{"g":"low","x":150,"lo":0.011,"hi":0.036},{"g":"low","x":155,"lo":0.006,"hi":0.026},{"g":"low","x":160,"lo":0.003,"hi":0.018},{"g":"low","x":170,"lo":0.001,"hi":0.008},{"g":"low","x":180,"lo":0,"hi":0.003},{"g":"low","x":190,"lo":0,"hi":0.001},{"g":"low","x":200,"lo":0,"hi":0}
],
"l2": [
{"g":"ue","c":"orange","x":100,"y":0.30},{"g":"ue","c":"orange","x":104,"y":0.354},{"g":"ue","c":"orange","x":108,"y":0.41},{"g":"ue","c":"orange","x":112,"y":0.469},{"g":"ue","c":"orange","x":116,"y":0.529},{"g":"ue","c":"orange","x":120,"y":0.588},{"g":"ue","c":"orange","x":124,"y":0.643},{"g":"ue","c":"orange","x":128,"y":0.695},{"g":"ue","c":"orange","x":132,"y":0.742},{"g":"ue","c":"orange","x":136,"y":0.785},{"g":"ue","c":"orange","x":140,"y":0.823},{"g":"ue","c":"orange","x":145,"y":0.863},{"g":"ue","c":"orange","x":150,"y":0.897},{"g":"ue","c":"orange","x":160,"y":0.946},{"g":"ue","c":"orange","x":170,"y":0.975},{"g":"ue","c":"orange","x":180,"y":0.988},{"g":"ue","c":"orange","x":190,"y":0.995},{"g":"ue","c":"orange","x":200,"y":0.998},{"g":"ue","c":"orange","x":220,"y":1},
{"g":"top","c":"black","x":200,"y":0.998},{"g":"top","c":"black","x":220,"y":1},{"g":"top","c":"black","x":500,"y":1},
{"g":"p1","c":"purple","x":100,"y":0.30},{"g":"p1","c":"purple","x":110,"y":0.355},{"g":"p1","c":"purple","x":120,"y":0.413},{"g":"p1","c":"purple","x":130,"y":0.48},{"g":"p1","c":"purple","x":140,"y":0.558},{"g":"p1","c":"purple","x":150,"y":0.638},{"g":"p1","c":"purple","x":160,"y":0.708},{"g":"p1","c":"purple","x":170,"y":0.771},{"g":"p1","c":"purple","x":180,"y":0.822},{"g":"p1","c":"purple","x":194,"y":0.868},{"g":"p1","c":"purple","x":211,"y":0.905},{"g":"p1","c":"purple","x":228,"y":0.928},{"g":"p1","c":"purple","x":262,"y":0.958},{"g":"p1","c":"purple","x":300,"y":0.979},{"g":"p1","c":"purple","x":350,"y":0.992},{"g":"p1","c":"purple","x":400,"y":0.998},{"g":"p1","c":"purple","x":460,"y":1},
{"g":"p2","c":"purple","x":100,"y":0.30},{"g":"p2","c":"purple","x":110,"y":0.348},{"g":"p2","c":"purple","x":120,"y":0.40},{"g":"p2","c":"purple","x":130,"y":0.466},{"g":"p2","c":"purple","x":140,"y":0.543},{"g":"p2","c":"purple","x":150,"y":0.623},{"g":"p2","c":"purple","x":160,"y":0.693},{"g":"p2","c":"purple","x":170,"y":0.757},{"g":"p2","c":"purple","x":180,"y":0.808},{"g":"p2","c":"purple","x":194,"y":0.855},{"g":"p2","c":"purple","x":211,"y":0.893},{"g":"p2","c":"purple","x":228,"y":0.918},{"g":"p2","c":"purple","x":262,"y":0.951},{"g":"p2","c":"purple","x":300,"y":0.975},{"g":"p2","c":"purple","x":350,"y":0.99},{"g":"p2","c":"purple","x":400,"y":0.997},{"g":"p2","c":"purple","x":460,"y":1},
{"g":"m1","c":"magenta","x":100,"y":0.30},{"g":"m1","c":"magenta","x":110,"y":0.342},{"g":"m1","c":"magenta","x":120,"y":0.388},{"g":"m1","c":"magenta","x":130,"y":0.452},{"g":"m1","c":"magenta","x":140,"y":0.528},{"g":"m1","c":"magenta","x":150,"y":0.607},{"g":"m1","c":"magenta","x":160,"y":0.677},{"g":"m1","c":"magenta","x":170,"y":0.741},{"g":"m1","c":"magenta","x":180,"y":0.793},{"g":"m1","c":"magenta","x":194,"y":0.841},{"g":"m1","c":"magenta","x":211,"y":0.881},{"g":"m1","c":"magenta","x":228,"y":0.907},{"g":"m1","c":"magenta","x":262,"y":0.944},{"g":"m1","c":"magenta","x":300,"y":0.971},{"g":"m1","c":"magenta","x":350,"y":0.988},{"g":"m1","c":"magenta","x":400,"y":0.996},{"g":"m1","c":"magenta","x":460,"y":1},
{"g":"o2","c":"orange","x":100,"y":0.30},{"g":"o2","c":"orange","x":110,"y":0.337},{"g":"o2","c":"orange","x":120,"y":0.375},{"g":"o2","c":"orange","x":130,"y":0.437},{"g":"o2","c":"orange","x":140,"y":0.512},{"g":"o2","c":"orange","x":150,"y":0.59},{"g":"o2","c":"orange","x":160,"y":0.66},{"g":"o2","c":"orange","x":170,"y":0.724},{"g":"o2","c":"orange","x":180,"y":0.777},{"g":"o2","c":"orange","x":194,"y":0.826},{"g":"o2","c":"orange","x":211,"y":0.868},{"g":"o2","c":"orange","x":228,"y":0.896},{"g":"o2","c":"orange","x":262,"y":0.937},{"g":"o2","c":"orange","x":300,"y":0.967},{"g":"o2","c":"orange","x":350,"y":0.986},{"g":"o2","c":"orange","x":400,"y":0.995},{"g":"o2","c":"orange","x":460,"y":1},
{"g":"q2","c":"light","x":100,"y":0.30},{"g":"q2","c":"light","x":110,"y":0.333},{"g":"q2","c":"light","x":120,"y":0.362},{"g":"q2","c":"light","x":130,"y":0.418},{"g":"q2","c":"light","x":140,"y":0.49},{"g":"q2","c":"light","x":150,"y":0.565},{"g":"q2","c":"light","x":160,"y":0.636},{"g":"q2","c":"light","x":170,"y":0.70},{"g":"q2","c":"light","x":180,"y":0.755},{"g":"q2","c":"light","x":194,"y":0.806},{"g":"q2","c":"light","x":211,"y":0.852},{"g":"q2","c":"light","x":228,"y":0.883},{"g":"q2","c":"light","x":262,"y":0.928},{"g":"q2","c":"light","x":300,"y":0.962},{"g":"q2","c":"light","x":350,"y":0.984},{"g":"q2","c":"light","x":400,"y":0.994},{"g":"q2","c":"light","x":460,"y":1},
{"g":"q1","c":"light","x":100,"y":0.30},{"g":"q1","c":"light","x":110,"y":0.33},{"g":"q1","c":"light","x":120,"y":0.35},{"g":"q1","c":"light","x":130,"y":0.40},{"g":"q1","c":"light","x":140,"y":0.47},{"g":"q1","c":"light","x":150,"y":0.543},{"g":"q1","c":"light","x":160,"y":0.612},{"g":"q1","c":"light","x":170,"y":0.677},{"g":"q1","c":"light","x":180,"y":0.733},{"g":"q1","c":"light","x":194,"y":0.787},{"g":"q1","c":"light","x":211,"y":0.837},{"g":"q1","c":"light","x":228,"y":0.87},{"g":"q1","c":"light","x":262,"y":0.92},{"g":"q1","c":"light","x":300,"y":0.957},{"g":"q1","c":"light","x":350,"y":0.982},{"g":"q1","c":"light","x":400,"y":0.993},{"g":"q1","c":"light","x":460,"y":1},
{"g":"lp1","c":"purple","x":100,"y":0.30},{"g":"lp1","c":"purple","x":110,"y":0.25},{"g":"lp1","c":"purple","x":120,"y":0.185},{"g":"lp1","c":"purple","x":130,"y":0.12},{"g":"lp1","c":"purple","x":140,"y":0.072},{"g":"lp1","c":"purple","x":150,"y":0.04},{"g":"lp1","c":"purple","x":160,"y":0.02},{"g":"lp1","c":"purple","x":175,"y":0.007},{"g":"lp1","c":"purple","x":190,"y":0.001},{"g":"lp1","c":"purple","x":200,"y":0},
{"g":"lp2","c":"purple","x":100,"y":0.30},{"g":"lp2","c":"purple","x":108,"y":0.27},{"g":"lp2","c":"purple","x":116,"y":0.22},{"g":"lp2","c":"purple","x":124,"y":0.16},{"g":"lp2","c":"purple","x":132,"y":0.11},{"g":"lp2","c":"purple","x":142,"y":0.065},{"g":"lp2","c":"purple","x":152,"y":0.035},{"g":"lp2","c":"purple","x":165,"y":0.014},{"g":"lp2","c":"purple","x":180,"y":0.004},{"g":"lp2","c":"purple","x":195,"y":0},
{"g":"lo1","c":"light","x":100,"y":0.30},{"g":"lo1","c":"light","x":110,"y":0.28},{"g":"lo1","c":"light","x":118,"y":0.255},{"g":"lo1","c":"light","x":125,"y":0.205},{"g":"lo1","c":"light","x":132,"y":0.152},{"g":"lo1","c":"light","x":140,"y":0.11},{"g":"lo1","c":"light","x":150,"y":0.075},{"g":"lo1","c":"light","x":160,"y":0.052},{"g":"lo1","c":"light","x":175,"y":0.026},{"g":"lo1","c":"light","x":194,"y":0.009},{"g":"lo1","c":"light","x":210,"y":0.002},{"g":"lo1","c":"light","x":220,"y":0},
{"g":"lo2","c":"orange","x":100,"y":0.30},{"g":"lo2","c":"orange","x":110,"y":0.265},{"g":"lo2","c":"orange","x":120,"y":0.21},{"g":"lo2","c":"orange","x":130,"y":0.145},{"g":"lo2","c":"orange","x":140,"y":0.095},{"g":"lo2","c":"orange","x":150,"y":0.06},{"g":"lo2","c":"orange","x":160,"y":0.036},{"g":"lo2","c":"orange","x":175,"y":0.015},{"g":"lo2","c":"orange","x":190,"y":0.005},{"g":"lo2","c":"orange","x":205,"y":0},
{"g":"le","c":"orange","x":100,"y":0.30},{"g":"le","c":"orange","x":104,"y":0.27},{"g":"le","c":"orange","x":108,"y":0.232},{"g":"le","c":"orange","x":112,"y":0.19},{"g":"le","c":"orange","x":116,"y":0.155},{"g":"le","c":"orange","x":120,"y":0.123},{"g":"le","c":"orange","x":125,"y":0.088},{"g":"le","c":"orange","x":130,"y":0.06},{"g":"le","c":"orange","x":136,"y":0.038},{"g":"le","c":"orange","x":142,"y":0.023},{"g":"le","c":"orange","x":150,"y":0.01},{"g":"le","c":"orange","x":160,"y":0.003},{"g":"le","c":"orange","x":170,"y":0},
{"g":"base","c":"black","x":160,"y":0.003},{"g":"base","c":"black","x":180,"y":0},{"g":"base","c":"black","x":500,"y":0}
],
"a3": [
{"g":"b","x":84,"lo":0.595,"hi":0.60},{"g":"b","x":86,"lo":0.625,"hi":0.63},{"g":"b","x":88,"lo":0.648,"hi":0.652},{"g":"b","x":90,"lo":0.655,"hi":0.658},{"g":"b","x":92,"lo":0.65,"hi":0.655},{"g":"b","x":94,"lo":0.63,"hi":0.645},{"g":"b","x":96,"lo":0.60,"hi":0.632},{"g":"b","x":98,"lo":0.56,"hi":0.615},{"g":"b","x":100,"lo":0.507,"hi":0.595},{"g":"b","x":102,"lo":0.447,"hi":0.572},{"g":"b","x":104,"lo":0.387,"hi":0.548},{"g":"b","x":106,"lo":0.326,"hi":0.523},{"g":"b","x":108,"lo":0.266,"hi":0.498},{"g":"b","x":110,"lo":0.206,"hi":0.473},{"g":"b","x":112,"lo":0.148,"hi":0.448},{"g":"b","x":114,"lo":0.095,"hi":0.424},{"g":"b","x":116,"lo":0.058,"hi":0.40},{"g":"b","x":118,"lo":0.036,"hi":0.375},{"g":"b","x":120,"lo":0.024,"hi":0.35},{"g":"b","x":122,"lo":0.015,"hi":0.325},{"g":"b","x":124,"lo":0.008,"hi":0.299},{"g":"b","x":126,"lo":0.004,"hi":0.272},{"g":"b","x":128,"lo":0.001,"hi":0.247},{"g":"b","x":132,"lo":0,"hi":0.20},{"g":"b","x":136,"lo":0,"hi":0.16},{"g":"b","x":140,"lo":0,"hi":0.127},{"g":"b","x":145,"lo":0,"hi":0.093},{"g":"b","x":150,"lo":0,"hi":0.068},{"g":"b","x":155,"lo":0,"hi":0.05},{"g":"b","x":160,"lo":0,"hi":0.037},{"g":"b","x":168,"lo":0,"hi":0.022},{"g":"b","x":176,"lo":0,"hi":0.012},{"g":"b","x":186,"lo":0,"hi":0.004},{"g":"b","x":195,"lo":0,"hi":0}
],
"l3": [
{"g":"e","c":"orange","x":90,"y":0.658},{"g":"e","c":"orange","x":94,"y":0.645},{"g":"e","c":"orange","x":98,"y":0.615},{"g":"e","c":"orange","x":102,"y":0.572},{"g":"e","c":"orange","x":106,"y":0.523},{"g":"e","c":"orange","x":110,"y":0.473},{"g":"e","c":"orange","x":114,"y":0.424},{"g":"e","c":"orange","x":118,"y":0.375},{"g":"e","c":"orange","x":122,"y":0.325},{"g":"e","c":"orange","x":126,"y":0.272},{"g":"e","c":"orange","x":132,"y":0.20},{"g":"e","c":"orange","x":140,"y":0.127},{"g":"e","c":"orange","x":150,"y":0.068},{"g":"e","c":"orange","x":160,"y":0.037},{"g":"e","c":"orange","x":168,"y":0.022},{"g":"e","c":"orange","x":176,"y":0.012},{"g":"e","c":"orange","x":186,"y":0.004},{"g":"e","c":"orange","x":195,"y":0},
{"g":"p","c":"purple","x":96,"y":0.62},{"g":"p","c":"purple","x":100,"y":0.583},{"g":"p","c":"purple","x":104,"y":0.535},{"g":"p","c":"purple","x":108,"y":0.485},{"g":"p","c":"purple","x":112,"y":0.433},{"g":"p","c":"purple","x":116,"y":0.385},{"g":"p","c":"purple","x":120,"y":0.335},{"g":"p","c":"purple","x":124,"y":0.285},{"g":"p","c":"purple","x":128,"y":0.233},{"g":"p","c":"purple","x":132,"y":0.19},{"g":"p","c":"purple","x":138,"y":0.138},{"g":"p","c":"purple","x":145,"y":0.088},{"g":"p","c":"purple","x":152,"y":0.058},{"g":"p","c":"purple","x":160,"y":0.034},{"g":"p","c":"purple","x":170,"y":0.017},{"g":"p","c":"purple","x":180,"y":0.007},{"g":"p","c":"purple","x":190,"y":0.001},{"g":"p","c":"purple","x":200,"y":0},
{"g":"m","c":"magenta","x":96,"y":0.615},{"g":"m","c":"magenta","x":100,"y":0.578},{"g":"m","c":"magenta","x":104,"y":0.527},{"g":"m","c":"magenta","x":108,"y":0.475},{"g":"m","c":"magenta","x":112,"y":0.42},{"g":"m","c":"magenta","x":116,"y":0.37},{"g":"m","c":"magenta","x":120,"y":0.318},{"g":"m","c":"magenta","x":124,"y":0.268},{"g":"m","c":"magenta","x":128,"y":0.22},{"g":"m","c":"magenta","x":132,"y":0.178},{"g":"m","c":"magenta","x":138,"y":0.128},{"g":"m","c":"magenta","x":145,"y":0.082},{"g":"m","c":"magenta","x":152,"y":0.053},{"g":"m","c":"magenta","x":160,"y":0.031},{"g":"m","c":"magenta","x":170,"y":0.015},{"g":"m","c":"magenta","x":180,"y":0.006},{"g":"m","c":"magenta","x":190,"y":0},
{"g":"pk","c":"orange","x":84,"y":0.60},{"g":"pk","c":"orange","x":86,"y":0.632},{"g":"pk","c":"orange","x":88,"y":0.654},{"g":"pk","c":"orange","x":90,"y":0.66},{"g":"pk","c":"orange","x":92,"y":0.657},
{"g":"base","c":"black","x":128,"y":0.001},{"g":"base","c":"black","x":135,"y":0},{"g":"base","c":"black","x":500,"y":0}
],
"a4": [
{"g":"b","x":100,"lo":0.12,"hi":0.12},{"g":"b","x":105,"lo":0.155,"hi":0.20},{"g":"b","x":110,"lo":0.195,"hi":0.30},{"g":"b","x":115,"lo":0.24,"hi":0.42},{"g":"b","x":120,"lo":0.29,"hi":0.54},{"g":"b","x":125,"lo":0.345,"hi":0.65},{"g":"b","x":130,"lo":0.40,"hi":0.75},{"g":"b","x":135,"lo":0.46,"hi":0.83},{"g":"b","x":140,"lo":0.52,"hi":0.89},{"g":"b","x":145,"lo":0.58,"hi":0.93},{"g":"b","x":150,"lo":0.635,"hi":0.955},{"g":"b","x":160,"lo":0.72,"hi":0.98},{"g":"b","x":170,"lo":0.79,"hi":0.992},{"g":"b","x":180,"lo":0.845,"hi":0.998},{"g":"b","x":190,"lo":0.885,"hi":1},{"g":"b","x":200,"lo":0.915,"hi":1},{"g":"b","x":220,"lo":0.95,"hi":1},{"g":"b","x":250,"lo":0.975,"hi":1},{"g":"b","x":280,"lo":0.988,"hi":1},{"g":"b","x":320,"lo":0.995,"hi":1},{"g":"b","x":350,"lo":0.998,"hi":1},{"g":"b","x":400,"lo":1,"hi":1}
],
"l4": [
{"g":"e","c":"orange","x":100,"y":0.12},{"g":"e","c":"orange","x":105,"y":0.20},{"g":"e","c":"orange","x":110,"y":0.30},{"g":"e","c":"orange","x":115,"y":0.42},{"g":"e","c":"orange","x":120,"y":0.54},{"g":"e","c":"orange","x":125,"y":0.65},{"g":"e","c":"orange","x":130,"y":0.75},{"g":"e","c":"orange","x":135,"y":0.83},{"g":"e","c":"orange","x":140,"y":0.89},{"g":"e","c":"orange","x":145,"y":0.93},{"g":"e","c":"orange","x":150,"y":0.955},{"g":"e","c":"orange","x":160,"y":0.98},{"g":"e","c":"orange","x":170,"y":0.992},{"g":"e","c":"orange","x":180,"y":0.998},{"g":"e","c":"orange","x":190,"y":1},
{"g":"top","c":"black","x":180,"y":0.998},{"g":"top","c":"black","x":200,"y":1},{"g":"top","c":"black","x":500,"y":1},
{"g":"pa","c":"purple","x":100,"y":0.12},{"g":"pa","c":"purple","x":120,"y":0.28},{"g":"pa","c":"purple","x":140,"y":0.50},{"g":"pa","c":"purple","x":160,"y":0.68},{"g":"pa","c":"purple","x":180,"y":0.79},{"g":"pa","c":"purple","x":200,"y":0.86},{"g":"pa","c":"purple","x":220,"y":0.90},{"g":"pa","c":"purple","x":250,"y":0.94},{"g":"pa","c":"purple","x":300,"y":0.965},{"g":"pa","c":"purple","x":350,"y":0.98},{"g":"pa","c":"purple","x":400,"y":0.99},{"g":"pa","c":"purple","x":500,"y":0.995},
{"g":"pb","c":"purple","x":100,"y":0.12},{"g":"pb","c":"purple","x":120,"y":0.27},{"g":"pb","c":"purple","x":140,"y":0.47},{"g":"pb","c":"purple","x":160,"y":0.64},{"g":"pb","c":"purple","x":180,"y":0.76},{"g":"pb","c":"purple","x":200,"y":0.83},{"g":"pb","c":"purple","x":230,"y":0.88},{"g":"pb","c":"purple","x":270,"y":0.92},{"g":"pb","c":"purple","x":330,"y":0.95},{"g":"pb","c":"purple","x":400,"y":0.97},{"g":"pb","c":"purple","x":500,"y":0.985},
{"g":"ma","c":"magenta","x":100,"y":0.12},{"g":"ma","c":"magenta","x":120,"y":0.275},{"g":"ma","c":"magenta","x":140,"y":0.485},{"g":"ma","c":"magenta","x":160,"y":0.66},{"g":"ma","c":"magenta","x":180,"y":0.775},{"g":"ma","c":"magenta","x":200,"y":0.845},{"g":"ma","c":"magenta","x":230,"y":0.895},{"g":"ma","c":"magenta","x":270,"y":0.93},{"g":"ma","c":"magenta","x":330,"y":0.96},{"g":"ma","c":"magenta","x":400,"y":0.978},{"g":"ma","c":"magenta","x":500,"y":0.99},
{"g":"oa","c":"orange","x":100,"y":0.12},{"g":"oa","c":"orange","x":120,"y":0.30},{"g":"oa","c":"orange","x":140,"y":0.50},{"g":"oa","c":"orange","x":160,"y":0.65},{"g":"oa","c":"orange","x":180,"y":0.74},{"g":"oa","c":"orange","x":200,"y":0.785},{"g":"oa","c":"orange","x":220,"y":0.80},{"g":"oa","c":"orange","x":240,"y":0.80},{"g":"oa","c":"orange","x":260,"y":0.79},{"g":"oa","c":"orange","x":300,"y":0.76},{"g":"oa","c":"orange","x":350,"y":0.70},{"g":"oa","c":"orange","x":400,"y":0.64},{"g":"oa","c":"orange","x":450,"y":0.57},{"g":"oa","c":"orange","x":500,"y":0.503},
{"g":"ob","c":"orange","x":100,"y":0.12},{"g":"ob","c":"orange","x":120,"y":0.29},{"g":"ob","c":"orange","x":140,"y":0.48},{"g":"ob","c":"orange","x":160,"y":0.63},{"g":"ob","c":"orange","x":180,"y":0.72},{"g":"ob","c":"orange","x":200,"y":0.77},{"g":"ob","c":"orange","x":230,"y":0.79},{"g":"ob","c":"orange","x":260,"y":0.785},{"g":"ob","c":"orange","x":300,"y":0.765},{"g":"ob","c":"orange","x":350,"y":0.72},{"g":"ob","c":"orange","x":400,"y":0.67},{"g":"ob","c":"orange","x":450,"y":0.615},{"g":"ob","c":"orange","x":500,"y":0.56},
{"g":"oc","c":"light","x":100,"y":0.12},{"g":"oc","c":"light","x":120,"y":0.29},{"g":"oc","c":"light","x":140,"y":0.49},{"g":"oc","c":"light","x":160,"y":0.64},{"g":"oc","c":"light","x":180,"y":0.73},{"g":"oc","c":"light","x":200,"y":0.78},{"g":"oc","c":"light","x":230,"y":0.80},{"g":"oc","c":"light","x":260,"y":0.80},{"g":"oc","c":"light","x":300,"y":0.785},{"g":"oc","c":"light","x":350,"y":0.75},{"g":"oc","c":"light","x":400,"y":0.71},{"g":"oc","c":"light","x":450,"y":0.655},{"g":"oc","c":"light","x":500,"y":0.598},
{"g":"od","c":"light","x":100,"y":0.12},{"g":"od","c":"light","x":130,"y":0.40},{"g":"od","c":"light","x":160,"y":0.65},{"g":"od","c":"light","x":200,"y":0.79},{"g":"od","c":"light","x":240,"y":0.81},{"g":"od","c":"light","x":280,"y":0.805},{"g":"od","c":"light","x":320,"y":0.79},{"g":"od","c":"light","x":360,"y":0.76},{"g":"od","c":"light","x":400,"y":0.73},{"g":"od","c":"light","x":450,"y":0.685},{"g":"od","c":"light","x":500,"y":0.633},
{"g":"oe","c":"light","x":100,"y":0.12},{"g":"oe","c":"light","x":130,"y":0.41},{"g":"oe","c":"light","x":160,"y":0.66},{"g":"oe","c":"light","x":200,"y":0.785},{"g":"oe","c":"light","x":250,"y":0.805},{"g":"oe","c":"light","x":300,"y":0.80},{"g":"oe","c":"light","x":350,"y":0.79},{"g":"oe","c":"light","x":400,"y":0.78},{"g":"oe","c":"light","x":450,"y":0.765},{"g":"oe","c":"light","x":500,"y":0.75},
{"g":"of","c":"light","x":100,"y":0.12},{"g":"of","c":"light","x":130,"y":0.45},{"g":"of","c":"light","x":160,"y":0.72},{"g":"of","c":"light","x":200,"y":0.86},{"g":"of","c":"light","x":250,"y":0.90},{"g":"of","c":"light","x":300,"y":0.905},{"g":"of","c":"light","x":400,"y":0.905},{"g":"of","c":"light","x":500,"y":0.90},
{"g":"og","c":"light","x":100,"y":0.12},{"g":"og","c":"light","x":130,"y":0.48},{"g":"og","c":"light","x":160,"y":0.78},{"g":"og","c":"light","x":200,"y":0.90},{"g":"og","c":"light","x":250,"y":0.94},{"g":"og","c":"light","x":300,"y":0.955},{"g":"og","c":"light","x":400,"y":0.96},{"g":"og","c":"light","x":500,"y":0.96},
{"g":"oh","c":"orange","x":100,"y":0.12},{"g":"oh","c":"orange","x":130,"y":0.50},{"g":"oh","c":"orange","x":160,"y":0.80},{"g":"oh","c":"orange","x":200,"y":0.92},{"g":"oh","c":"orange","x":250,"y":0.96},{"g":"oh","c":"orange","x":300,"y":0.98},{"g":"oh","c":"orange","x":400,"y":0.995},{"g":"oh","c":"orange","x":500,"y":1},
{"g":"oi","c":"light","x":100,"y":0.12},{"g":"oi","c":"light","x":130,"y":0.52},{"g":"oi","c":"light","x":160,"y":0.82},{"g":"oi","c":"light","x":200,"y":0.93},{"g":"oi","c":"light","x":260,"y":0.97},{"g":"oi","c":"light","x":320,"y":0.985},{"g":"oi","c":"light","x":400,"y":0.993},{"g":"oi","c":"light","x":500,"y":0.997}
]
},
"vconcat": [
{"bounds": "flush", "spacing": 44,
 "resolve": {"scale": {"shape": "independent", "stroke": "independent"}, "legend": {"shape": "independent", "stroke": "independent"}},
 "hconcat": [
 {"width": 515, "height": 337,
  "layer": [
   {"data": {"values": [{"x": 100}]}, "mark": {"type": "rule", "color": "#3ea44e", "strokeWidth": 1},
    "encoding": {"x": {"field": "x", "type": "quantitative", "scale": {"domain": [-15, 515], "nice": false, "zero": false}, "axis": {"values": [0,100,200,300,400,500], "format": "d"}}}},
   {"data": {"name": "truth"}, "mark": {"type": "point", "filled": true, "fill": "#add8e6", "strokeWidth": 1, "size": 38, "opacity": 1},
    "encoding": {
     "x": {"field": "x", "type": "quantitative", "scale": {"domain": [-15, 515], "nice": false, "zero": false}, "axis": {"values": [0,100,200,300,400,500], "format": "d"}},
     "y": {"field": "S", "type": "quantitative", "scale": {"domain": [-0.035, 1.035], "nice": false, "zero": false}, "axis": {"values": [0,0.1,0.2,0.3,0.4,0.5,0.6,0.7,0.8,0.9,1], "format": ".1f"}},
     "shape": {"datum": "True Data", "type": "nominal", "scale": {"domain": ["True Data", "End of Training Data"], "range": ["circle", "M-4.8,0H4.8"]}, "legend": {"orient": "none", "legendX": 342, "legendY": 12}},
     "stroke": {"datum": "True Data", "type": "nominal", "scale": {"domain": ["True Data", "End of Training Data"], "range": ["#000000", "#3ea44e"]}, "legend": {"orient": "none", "legendX": 342, "legendY": 12}}
    }}
  ]},
 {"width": 511, "height": 337,
  "resolve": {"scale": {"stroke": "independent", "shape": "independent"}, "legend": {"stroke": "independent", "shape": "independent"}},
  "layer": [
   {"data": {"name": "a2"}, "mark": {"type": "area", "color": "#000", "interpolate": "monotone", "opacity": 1},
    "encoding": {"x": {"field": "x", "type": "quantitative", "scale": {"domain": [-15, 511], "nice": false, "zero": false}, "axis": {"values": [0,100,200,300,400,500], "format": "d"}}, "y": {"field": "lo", "type": "quantitative", "scale": {"domain": [-0.035, 1.035], "nice": false, "zero": false}, "axis": {"values": [0,0.1,0.2,0.3,0.4,0.5,0.6,0.7,0.8,0.9,1], "format": ".1f"}}, "y2": {"field": "hi"}, "detail": {"field": "g"}}},
   {"data": {"name": "l2"}, "mark": {"type": "line", "strokeWidth": 1, "interpolate": "monotone"},
    "encoding": {"x": {"field": "x", "type": "quantitative", "scale": {"domain": [-15, 511], "nice": false, "zero": false}}, "y": {"field": "y", "type": "quantitative", "scale": {"domain": [-0.035, 1.035], "nice": false, "zero": false}}, "detail": {"field": "g"},
     "stroke": {"field": "c", "type": "nominal", "scale": {"domain": ["black","purple","magenta","orange","light"], "range": ["#000000","#4f0f6e","#a32b62","#f59a2f","#fdd08e"]}, "legend": null}}},
   {"data": {"values": [{"x": 100}]}, "mark": {"type": "rule", "color": "#3ea44e", "strokeWidth": 1},
    "encoding": {"x": {"field": "x", "type": "quantitative", "scale": {"domain": [-15, 511], "nice": false, "zero": false}}}},
   {"data": {"name": "truth"}, "mark": {"type": "point", "filled": true, "fill": "#add8e6", "strokeWidth": 1, "size": 38, "opacity": 1},
    "encoding": {
     "x": {"field": "x", "type": "quantitative", "scale": {"domain": [-15, 511], "nice": false, "zero": false}, "axis": {"values": [0,100,200,300,400,500], "format": "d"}},
     "y": {"field": "I", "type": "quantitative", "scale": {"domain": [-0.035, 1.035], "nice": false, "zero": false}, "axis": {"values": [0,0.1,0.2,0.3,0.4,0.5,0.6,0.7,0.8,0.9,1], "format": ".1f"}},
     "shape": {"datum": "True Data", "type": "nominal", "scale": {"domain": ["True Data", "End of Training Data"], "range": ["circle", "M-4.8,0H4.8"]}, "legend": {"orient": "none", "legendX": 342, "legendY": 12}},
     "stroke": {"datum": "True Data", "type": "nominal", "scale": {"domain": ["True Data", "End of Training Data"], "range": ["#000000", "#3ea44e"]}, "legend": {"orient": "none", "legendX": 342, "legendY": 12}}
    }}
  ]}
 ]},
{"bounds": "flush", "spacing": 34.5,
 "resolve": {"scale": {"shape": "independent", "stroke": "independent"}, "legend": {"shape": "independent", "stroke": "independent"}},
 "hconcat": [
 {"width": 500, "height": 338,
  "resolve": {"scale": {"stroke": "independent", "shape": "independent"}, "legend": {"stroke": "independent", "shape": "independent"}},
  "layer": [
   {"data": {"name": "a3"}, "mark": {"type": "area", "color": "#000", "interpolate": "monotone", "opacity": 1},
    "encoding": {"x": {"field": "x", "type": "quantitative", "scale": {"domain": [-15, 500], "nice": false, "zero": false}, "axis": {"values": [0,100,200,300,400,500], "format": "d"}}, "y": {"field": "lo", "type": "quantitative", "scale": {"domain": [-0.035, 1.035], "nice": false, "zero": false}, "axis": {"values": [0,0.1,0.2,0.3,0.4,0.5,0.6,0.7,0.8,0.9,1], "format": ".1f"}}, "y2": {"field": "hi"}, "detail": {"field": "g"}}},
   {"data": {"name": "l3"}, "mark": {"type": "line", "strokeWidth": 1, "interpolate": "monotone"},
    "encoding": {"x": {"field": "x", "type": "quantitative", "scale": {"domain": [-15, 500], "nice": false, "zero": false}}, "y": {"field": "y", "type": "quantitative", "scale": {"domain": [-0.035, 1.035], "nice": false, "zero": false}}, "detail": {"field": "g"},
     "stroke": {"field": "c", "type": "nominal", "scale": {"domain": ["black","purple","magenta","orange","light"], "range": ["#000000","#4f0f6e","#a32b62","#f59a2f","#fdd08e"]}, "legend": null}}},
   {"data": {"values": [{"x": 100}]}, "mark": {"type": "rule", "color": "#3ea44e", "strokeWidth": 1},
    "encoding": {"x": {"field": "x", "type": "quantitative", "scale": {"domain": [-15, 500], "nice": false, "zero": false}}}},
   {"data": {"name": "truth"}, "mark": {"type": "point", "filled": true, "fill": "#add8e6", "strokeWidth": 1, "size": 38, "opacity": 1, "clip": true},
    "encoding": {
     "x": {"field": "x", "type": "quantitative", "scale": {"domain": [-15, 500], "nice": false, "zero": false}, "axis": {"values": [0,100,200,300,400,500], "format": "d"}},
     "y": {"field": "E", "type": "quantitative", "scale": {"domain": [-0.035, 1.035], "nice": false, "zero": false}, "axis": {"values": [0,0.1,0.2,0.3,0.4,0.5,0.6,0.7,0.8,0.9,1], "format": ".1f"}},
     "shape": {"datum": "True Data", "type": "nominal", "scale": {"domain": ["True Data", "End of Training Data"], "range": ["circle", "M-4.8,0H4.8"]}, "legend": {"orient": "none", "legendX": 342, "legendY": 13}},
     "stroke": {"datum": "True Data", "type": "nominal", "scale": {"domain": ["True Data", "End of Training Data"], "range": ["#000000", "#3ea44e"]}, "legend": {"orient": "none", "legendX": 342, "legendY": 13}}
    }}
  ]},
 {"width": 515, "height": 338,
  "resolve": {"scale": {"stroke": "independent", "shape": "independent"}, "legend": {"stroke": "independent", "shape": "independent"}},
  "layer": [
   {"data": {"name": "a4"}, "mark": {"type": "area", "color": "#000", "interpolate": "monotone", "opacity": 1},
    "encoding": {"x": {"field": "x", "type": "quantitative", "scale": {"domain": [-15, 515], "nice": false, "zero": false}, "axis": {"values": [0,100,200,300,400,500], "format": "d"}}, "y": {"field": "lo", "type": "quantitative", "scale": {"domain": [-0.035, 1.035], "nice": false, "zero": false}, "axis": {"values": [0,0.1,0.2,0.3,0.4,0.5,0.6,0.7,0.8,0.9,1], "format": ".1f"}}, "y2": {"field": "hi"}, "detail": {"field": "g"}}},
   {"data": {"name": "l4"}, "mark": {"type": "line", "strokeWidth": 1, "interpolate": "monotone"},
    "encoding": {"x": {"field": "x", "type": "quantitative", "scale": {"domain": [-15, 515], "nice": false, "zero": false}}, "y": {"field": "y", "type": "quantitative", "scale": {"domain": [-0.035, 1.035], "nice": false, "zero": false}}, "detail": {"field": "g"},
     "stroke": {"field": "c", "type": "nominal", "scale": {"domain": ["black","purple","magenta","orange","light"], "range": ["#000000","#4f0f6e","#a32b62","#f59a2f","#fdd08e"]}, "legend": null}}},
   {"data": {"values": [{"x": 100}]}, "mark": {"type": "rule", "color": "#3ea44e", "strokeWidth": 1},
    "encoding": {"x": {"field": "x", "type": "quantitative", "scale": {"domain": [-15, 515], "nice": false, "zero": false}}}},
   {"data": {"name": "truth"}, "mark": {"type": "point", "filled": true, "fill": "#add8e6", "strokeWidth": 1, "size": 38, "opacity": 1},
    "encoding": {
     "x": {"field": "x", "type": "quantitative", "scale": {"domain": [-15, 515], "nice": false, "zero": false}, "axis": {"values": [0,100,200,300,400,500], "format": "d"}},
     "y": {"field": "R", "type": "quantitative", "scale": {"domain": [-0.035, 1.035], "nice": false, "zero": false}, "axis": {"values": [0,0.1,0.2,0.3,0.4,0.5,0.6,0.7,0.8,0.9,1], "format": ".1f"}},
     "shape": {"datum": "True Data", "type": "nominal", "scale": {"domain": ["True Data", "End of Training Data"], "range": ["circle", "M-4.8,0H4.8"]}, "legend": {"orient": "none", "legendX": 341, "legendY": 13}},
     "stroke": {"datum": "True Data", "type": "nominal", "scale": {"domain": ["True Data", "End of Training Data"], "range": ["#000000", "#3ea44e"]}, "legend": {"orient": "none", "legendX": 341, "legendY": 13}}
    }}
  ]}
 ]}
]
}
